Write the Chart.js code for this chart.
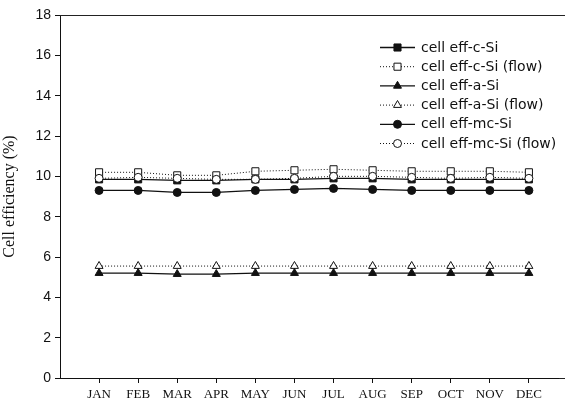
<!DOCTYPE html>
<html>
<head>
<meta charset="utf-8">
<script src="https://cdn.jsdelivr.net/npm/chart.js@4"></script>
<style>
  html, body { margin: 0; padding: 0; background: #fff; overflow: hidden; }
  #wrap { width: 565px; height: 409px; }
  canvas { display: block; }
</style>
</head>
<body>
<div id="wrap"><canvas id="myChart" width="565" height="409"></canvas></div>
<script>
// data
var months = ['JAN', 'FEB', 'MAR', 'APR', 'MAY', 'JUN', 'JUL', 'AUG', 'SEP', 'OCT', 'NOV', 'DEC'];
var yTicks = [0, 2, 4, 6, 8, 10, 12, 14, 16, 18];

var effCSi       = [9.85, 9.85, 9.8, 9.8, 9.85, 9.85, 9.9, 9.9, 9.85, 9.85, 9.85, 9.85];
var effCSiFlow   = [10.2, 10.2, 10.05, 10.05, 10.25, 10.3, 10.35, 10.3, 10.25, 10.25, 10.25, 10.2];
var effASi       = [5.2, 5.2, 5.15, 5.15, 5.2, 5.2, 5.2, 5.2, 5.2, 5.2, 5.2, 5.2];
var effASiFlow   = [5.55, 5.55, 5.55, 5.55, 5.55, 5.55, 5.55, 5.55, 5.55, 5.55, 5.55, 5.55];
var effMcSi      = [9.3, 9.3, 9.2, 9.2, 9.3, 9.35, 9.4, 9.35, 9.3, 9.3, 9.3, 9.3];
var effMcSiFlow  = [9.9, 9.95, 9.9, 9.85, 9.85, 9.9, 10.0, 10.0, 9.95, 9.9, 9.95, 9.9];

function pts(arr) {
    return arr.map(function (v, i) { return { x: i, y: v }; });
}

function series(label, values, style, radius, filled, dotted, order) {
    return {
        label: label,
        data: pts(values),
        borderColor: '#111',
        borderWidth: dotted ? 1 : 1.3,
        borderDash: dotted ? [1, 2] : [],
        pointStyle: style,
        pointRadius: radius,
        pointBorderWidth: 1,
        pointBorderColor: '#111',
        pointBackgroundColor: filled ? '#111' : '#fff',
        backgroundColor: 'transparent',
        fill: false,
        tension: 0,
        order: order
    };
}

var datasets = [
    series('cell eff-c-Si', effCSi, 'rect', 5, true, false, 5),
    series('cell eff-c-Si (flow)', effCSiFlow, 'rect', 5, false, true, 6),
    series('cell eff-a-Si', effASi, 'triangle', 4.6, true, false, 2),
    series('cell eff-a-Si (flow)', effASiFlow, 'triangle', 4.6, false, true, 3),
    series('cell eff-mc-Si', effMcSi, 'circle', 4, true, false, 1),
    series('cell eff-mc-Si (flow)', effMcSiFlow, 'circle', 4, false, true, 4)
];

// top frame line + legend drawn by hand (line + marker like the original)
var framePlugin = {
    id: 'frameAndLegend',
    afterDraw: function (chart) {
        var ctx = chart.ctx;
        var a = chart.chartArea;
        ctx.save();
        ctx.strokeStyle = '#222';
        ctx.lineWidth = 1;
        ctx.beginPath();
        ctx.moveTo(a.left, a.top + 0.5);
        ctx.lineTo(chart.width, a.top + 0.5);
        // axis runs to the edge of the figure
        ctx.moveTo(a.right, a.bottom + 0.5);
        ctx.lineTo(chart.width, a.bottom + 0.5);
        ctx.stroke();

        var x0 = 380, x1 = 415, y = 47, step = 19.2;
        chart.data.datasets.forEach(function (ds) {
            ctx.strokeStyle = ds.borderColor;
            ctx.lineWidth = ds.borderWidth;
            ctx.setLineDash(ds.borderDash);
            ctx.beginPath();
            ctx.moveTo(x0, y + 0.5);
            ctx.lineTo(x1, y + 0.5);
            ctx.stroke();
            ctx.setLineDash([]);
            ctx.fillStyle = ds.pointBackgroundColor;
            ctx.strokeStyle = ds.pointBorderColor;
            ctx.lineWidth = ds.pointBorderWidth;
            Chart.helpers.drawPoint(ctx, {
                pointStyle: ds.pointStyle,
                radius: ds.pointRadius,
                rotation: 0,
                borderWidth: ds.pointBorderWidth
            }, (x0 + x1) / 2, y + 0.5);
            ctx.fillStyle = '#111';
            ctx.font = '14px "DejaVu Sans", Arial, sans-serif';
            ctx.textBaseline = 'middle';
            ctx.textAlign = 'left';
            ctx.fillText(ds.label, 421, y + 1);
            y += step;
        });
        ctx.restore();
    }
};

var graph = new Chart(document.getElementById('myChart'), {
    type: 'line',
    data: { datasets: datasets },
    options: {
        responsive: false,
        animation: false,
        layout: { padding: { top: 15, right: 0, left: 0, bottom: 0 } },
        plugins: {
            legend: { display: false },
            tooltip: { enabled: false }
        },
        scales: {
            x: {
                type: 'linear',
                min: -1,
                max: 11.77,
                afterBuildTicks: function (scale) {
                    scale.ticks = months.map(function (m, i) { return { value: i }; });
                },
                afterFit: function (scale) {
                    scale.height = 31;
                    scale.paddingLeft = 0;
                    scale.paddingRight = 0;
                },
                border: { display: true, color: '#111', width: 1 },
                grid: { drawOnChartArea: false, drawTicks: true, tickLength: 5, color: '#111' },
                ticks: {
                    autoSkip: false,
                    maxRotation: 0,
                    padding: 4,
                    color: '#111',
                    font: { family: '"Liberation Serif", "Times New Roman", serif', size: 13 },
                    callback: function (v) { return months[v]; }
                }
            },
            y: {
                min: 0,
                max: 18,
                afterBuildTicks: function (scale) {
                    scale.ticks = yTicks.map(function (v) { return { value: v }; });
                },
                afterFit: function (scale) { scale.width = 60; },
                border: { display: true, color: '#111', width: 1 },
                grid: { drawOnChartArea: false, drawTicks: true, tickLength: 5, color: '#111' },
                ticks: {
                    padding: 4,
                    color: '#111',
                    font: { family: '"Liberation Sans", Arial, sans-serif', size: 14 }
                },
                title: {
                    display: true,
                    text: 'Cell efficiency (%)',
                    color: '#111',
                    padding: { top: 0, bottom: 2 },
                    font: { family: '"Liberation Serif", "Times New Roman", serif', size: 16 }
                }
            }
        }
    },
    plugins: [framePlugin]
});
</script>
</body>
</html>
